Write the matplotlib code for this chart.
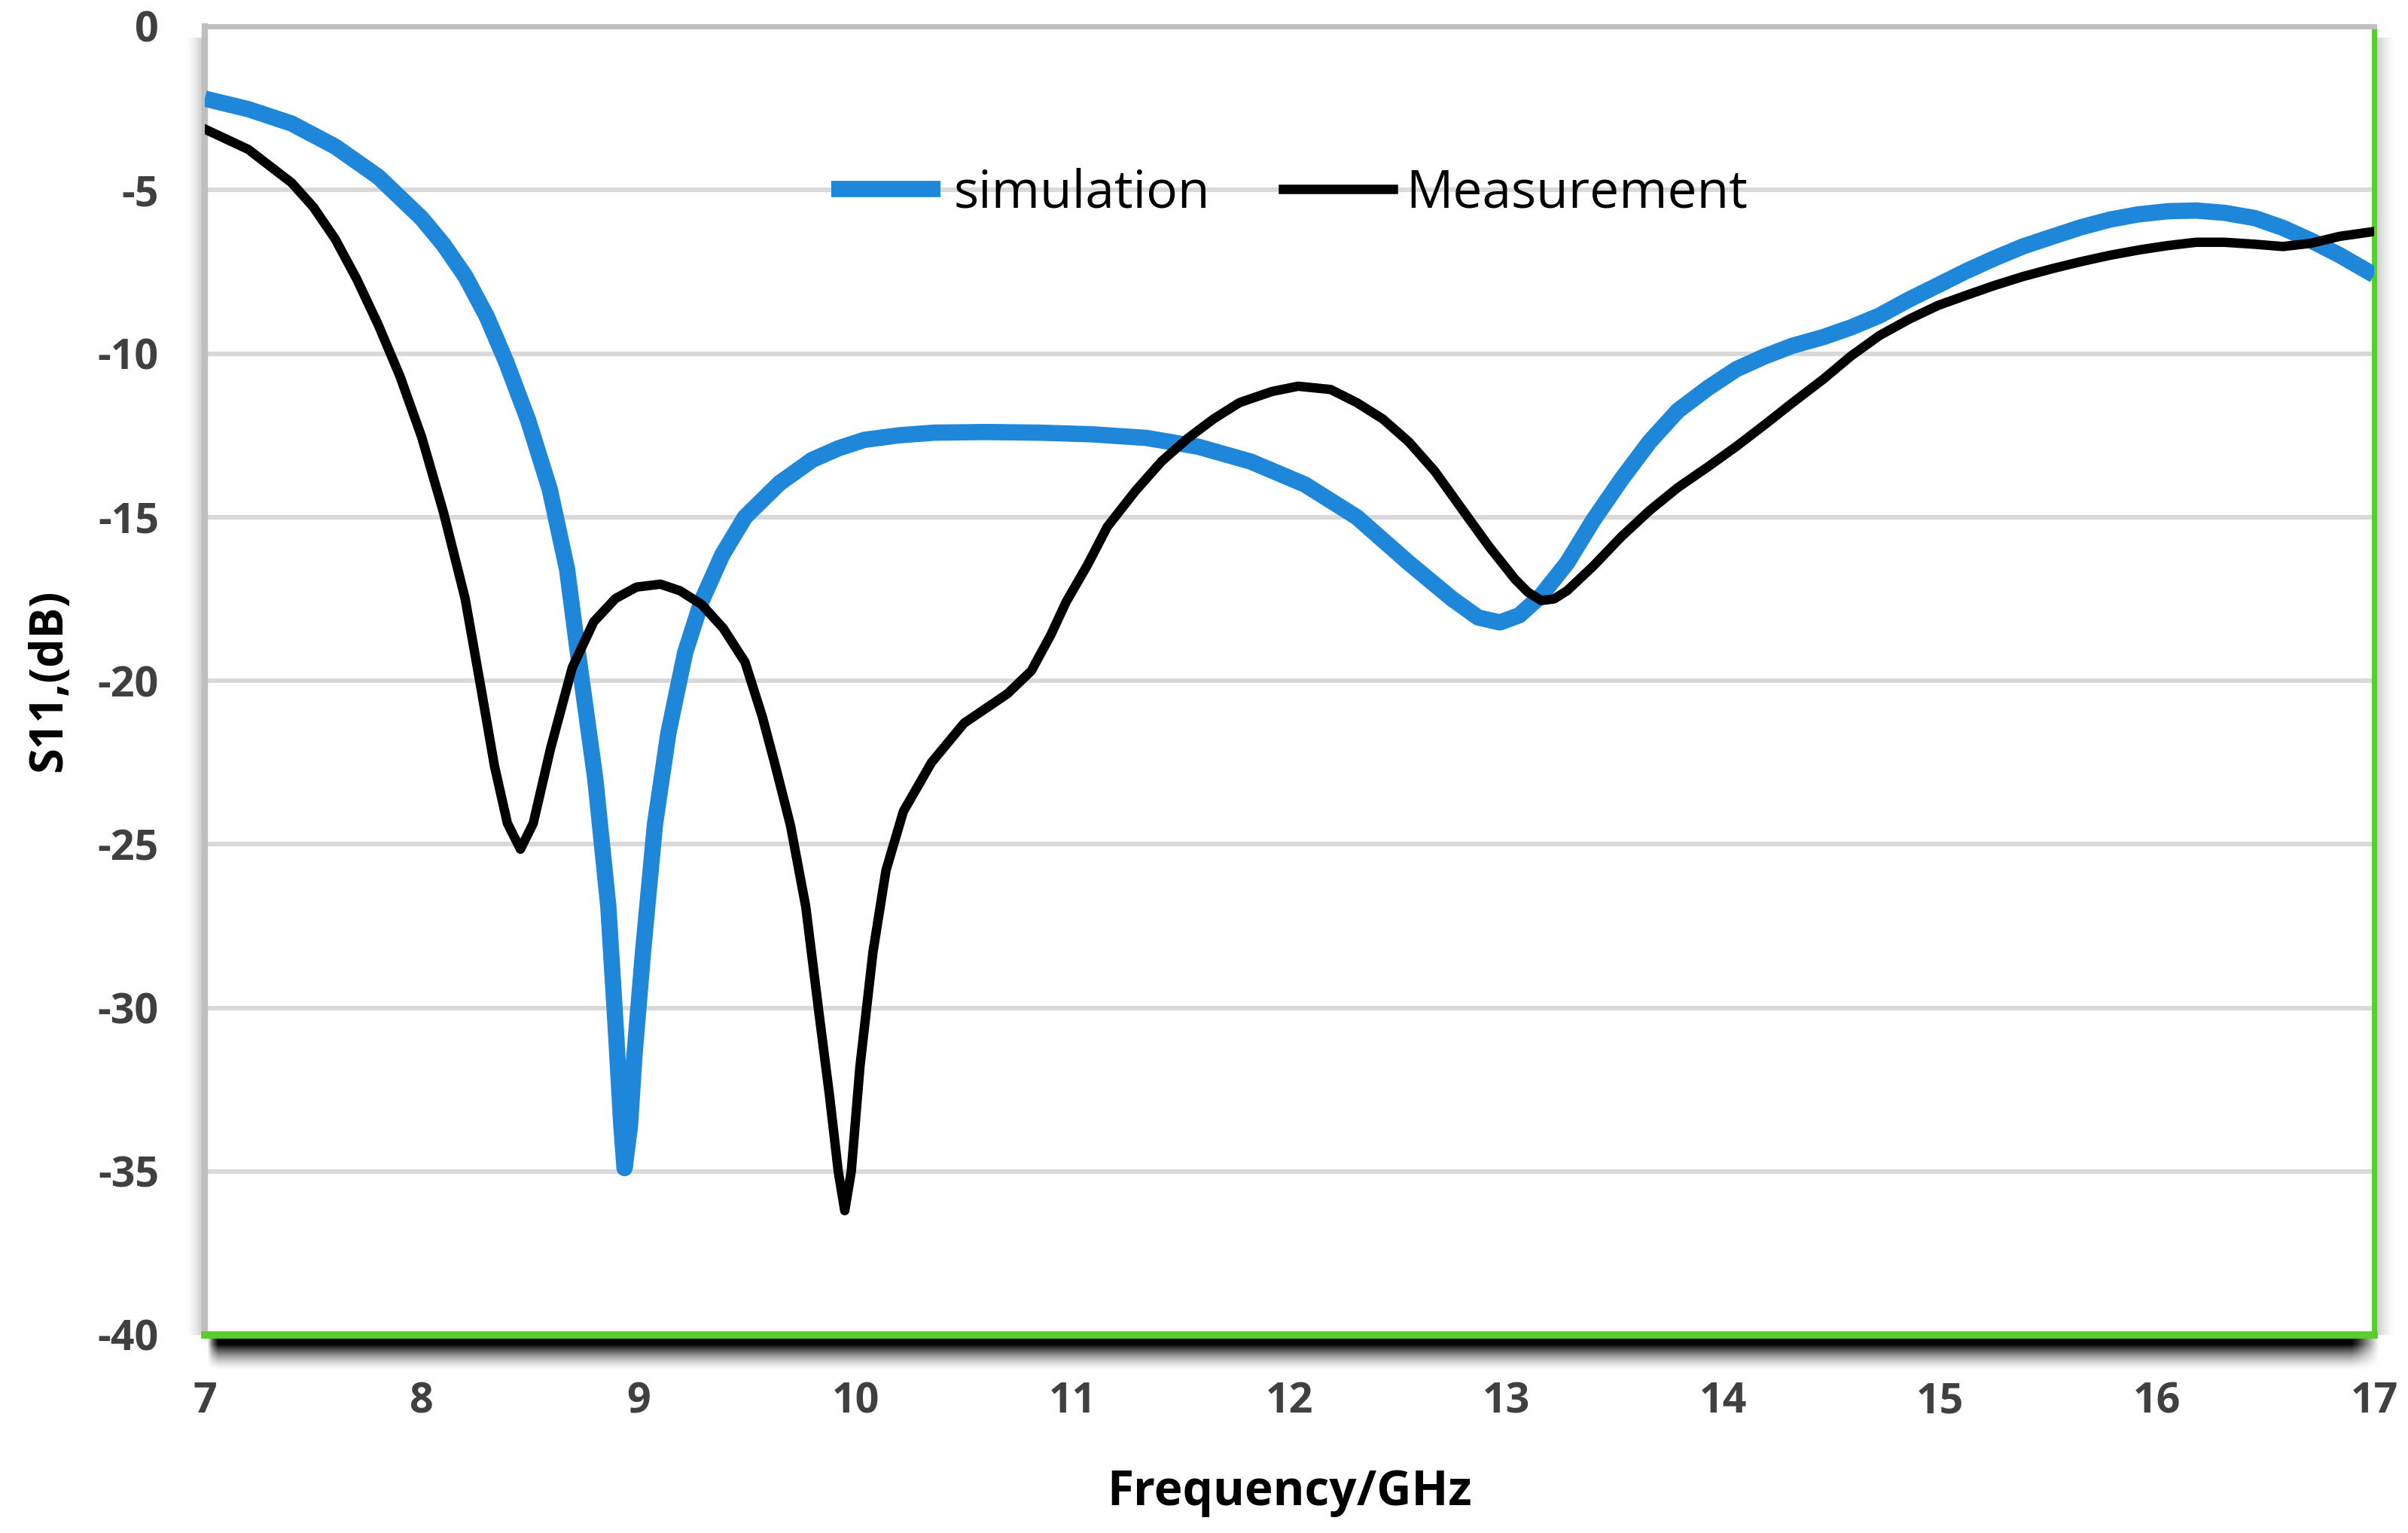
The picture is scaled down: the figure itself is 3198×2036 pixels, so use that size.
import numpy as np
import matplotlib
matplotlib.use("Agg")
import matplotlib.pyplot as plt

plt.rcParams["axes.unicode_minus"] = False

# частота, ГГц / S11, дБ
sim_f = [7.0, 7.2, 7.4, 7.6, 7.8, 8.0, 8.1, 8.2, 8.3, 8.39, 8.49, 8.59, 8.67, 8.72,
         8.80, 8.86, 8.897, 8.92, 8.935, 8.96, 8.98, 9.02, 9.075, 9.137, 9.214,
         9.29, 9.385, 9.49, 9.65, 9.80, 9.92, 10.04, 10.20, 10.36, 10.60, 10.85,
         11.09, 11.34, 11.58, 11.82, 12.07, 12.31, 12.55, 12.75, 12.87, 12.97,
         13.06, 13.16, 13.28, 13.40, 13.53, 13.66, 13.79, 13.93, 14.06, 14.19,
         14.32, 14.46, 14.59, 14.72, 14.85, 14.99, 15.12, 15.25, 15.38, 15.52,
         15.65, 15.78, 15.91, 16.05, 16.18, 16.31, 16.45, 16.58, 16.71, 16.84, 17.0]
sim_db = [-2.21, -2.53, -2.97, -3.67, -4.6, -5.87, -6.67, -7.63, -8.87, -10.27,
          -12.03, -14.15, -16.6, -19.15, -23.0, -26.9, -30.9, -33.6, -34.9, -33.6,
          -31.5, -28.3, -24.4, -21.6, -19.15, -17.57, -16.16, -15.0, -13.96, -13.25,
          -12.9, -12.64, -12.5, -12.42, -12.4, -12.42, -12.47, -12.58, -12.85, -13.3,
          -14.0, -15.0, -16.4, -17.5, -18.07, -18.22, -18.0, -17.4, -16.4, -15.1,
          -13.85, -12.7, -11.75, -11.05, -10.48, -10.09, -9.76, -9.5, -9.2, -8.84,
          -8.37, -7.91, -7.48, -7.09, -6.73, -6.42, -6.14, -5.91, -5.75, -5.65,
          -5.63, -5.70, -5.86, -6.16, -6.55, -6.99, -7.6]

meas_f = [7.0, 7.2, 7.4, 7.5, 7.6, 7.7, 7.8, 7.9, 8.0, 8.1, 8.2, 8.275, 8.335,
          8.395, 8.455, 8.514, 8.594, 8.694, 8.793, 8.893, 8.99, 9.10, 9.19, 9.29,
          9.39, 9.49, 9.57, 9.63, 9.70, 9.77, 9.83, 9.88, 9.92, 9.95, 9.98, 10.02,
          10.08, 10.14, 10.22, 10.35, 10.50, 10.70, 10.81, 10.90, 10.97, 11.07,
          11.16, 11.29, 11.41, 11.53, 11.65, 11.77, 11.92, 12.04, 12.19, 12.31,
          12.43, 12.55, 12.67, 12.80, 12.92, 13.04, 13.10, 13.16, 13.22, 13.28,
          13.40, 13.53, 13.66, 13.79, 13.93, 14.06, 14.19, 14.32, 14.46, 14.59,
          14.72, 14.86, 14.99, 15.12, 15.25, 15.38, 15.52, 15.65, 15.78, 15.92,
          16.05, 16.18, 16.31, 16.45, 16.58, 16.71, 16.84, 17.0]
meas_db = [-3.14, -3.76, -4.78, -5.52, -6.49, -7.72, -9.13, -10.7, -12.56, -14.85,
           -17.49, -20.3, -22.6, -24.36, -25.15, -24.36, -22.07, -19.6, -18.2, -17.49,
           -17.14, -17.05, -17.25, -17.67, -18.4, -19.43, -21.1, -22.6, -24.43, -26.9,
           -30.1, -32.7, -35.0, -36.2, -35.0, -31.8, -28.3, -25.8, -24.0, -22.5,
           -21.3, -20.4, -19.7, -18.6, -17.6, -16.45, -15.3, -14.2, -13.3, -12.6,
           -12.0, -11.5, -11.16, -11.0, -11.1, -11.5, -12.0, -12.7, -13.6, -14.8,
           -15.9, -16.9, -17.3, -17.55, -17.5, -17.25, -16.5, -15.6, -14.8, -14.1,
           -13.46, -12.84, -12.18, -11.5, -10.79, -10.07, -9.45, -8.94, -8.53, -8.22,
           -7.92, -7.65, -7.4, -7.19, -7.0, -6.83, -6.7, -6.60, -6.6, -6.66, -6.73,
           -6.63, -6.42, -6.27]

x_ticks = list(range(7, 18))
y_ticks = list(range(-40, 1, 5))

W, H = 3198, 2036
DPI = 200
L, R, T, B = 272, 3153, 35, 1773  # рамка графика в пикселях

fig = plt.figure(figsize=(W / DPI, H / DPI), dpi=DPI)
ax = fig.add_axes([L / W, 1 - B / H, (R - L) / W, (B - T) / H])


def shadow(x0, y0, x1, y1, color, alpha):
    # тень рамки: отдельная ось с градиентной картинкой
    sax = fig.add_axes([x0 / W, 1 - y1 / H, (x1 - x0) / W, (y1 - y0) / H], zorder=0)
    sax.axis("off")
    rgba = np.zeros(alpha.shape + (4,))
    rgba[..., :3] = matplotlib.colors.to_rgb(color)
    rgba[..., 3] = alpha
    sax.imshow(rgba, aspect="auto", interpolation="bilinear", extent=(0, 1, 0, 1))


t = np.linspace(0, 1, 80)
fade_y = np.clip((1 - t) / 0.75, 0, 1) ** 1.6
s = np.linspace(0, 1, 400)
fade_x = np.clip(np.minimum(s / 0.004, (1 - s) / 0.012), 0, 1)
shadow(L, B, R + 10, B + 48, "black", np.outer(fade_y, fade_x))

side = np.linspace(0, 1, 40)
shadow(L - 25, T + 15, L, B, "#909090", np.tile(side ** 1.5 * 0.55, (10, 1)))
shadow(R, T + 15, R + 28, B, "#909090", np.tile((1 - side) ** 1.5 * 0.55, (10, 1)))

ax.set_zorder(2)
ax.plot(sim_f, sim_db, color="#1f87d9", lw=7.8, label="simulation",
        solid_joinstyle="round", solid_capstyle="butt", zorder=3)
ax.plot(meas_f, meas_db, color="black", lw=4.5, label="Measurement",
        solid_joinstyle="round", zorder=4)

ax.set_xlim(7, 17)
ax.set_ylim(-40, 0)
ax.set_xticks(x_ticks)
ax.set_yticks(y_ticks)
ax.grid(axis="y", color="#d9d9d9", lw=2.2)
ax.set_axisbelow(True)
ax.tick_params(length=0, pad=22, labelsize=20, colors="#404040")
for lab in ax.get_xticklabels() + ax.get_yticklabels():
    lab.set_fontfamily("Open Sans")
    lab.set_fontweight("bold")

ax.spines["top"].set_color("#bfbfbf")
ax.spines["top"].set_linewidth(2.5)
ax.spines["left"].set_color("#bfbfbf")
ax.spines["left"].set_linewidth(3)
ax.spines["bottom"].set_color("#5acd2e")
ax.spines["bottom"].set_linewidth(3.5)
ax.spines["right"].set_color("#5acd2e")
ax.spines["right"].set_linewidth(2.5)

ax.set_xlabel("Frequency/GHz", fontsize=23, fontweight="bold", family="Open Sans",
              labelpad=22)
ax.set_ylabel("S11,(dB)", fontsize=22, fontweight="bold", family="Open Sans",
              labelpad=12)

ax.legend(loc="center", bbox_to_anchor=(0.5, 0.872), ncol=2, frameon=False,
          prop={"family": "Open Sans", "size": 25},
          handlelength=2.1, handletextpad=0.25, columnspacing=1.4)

fig.savefig("out.png", dpi=DPI)
